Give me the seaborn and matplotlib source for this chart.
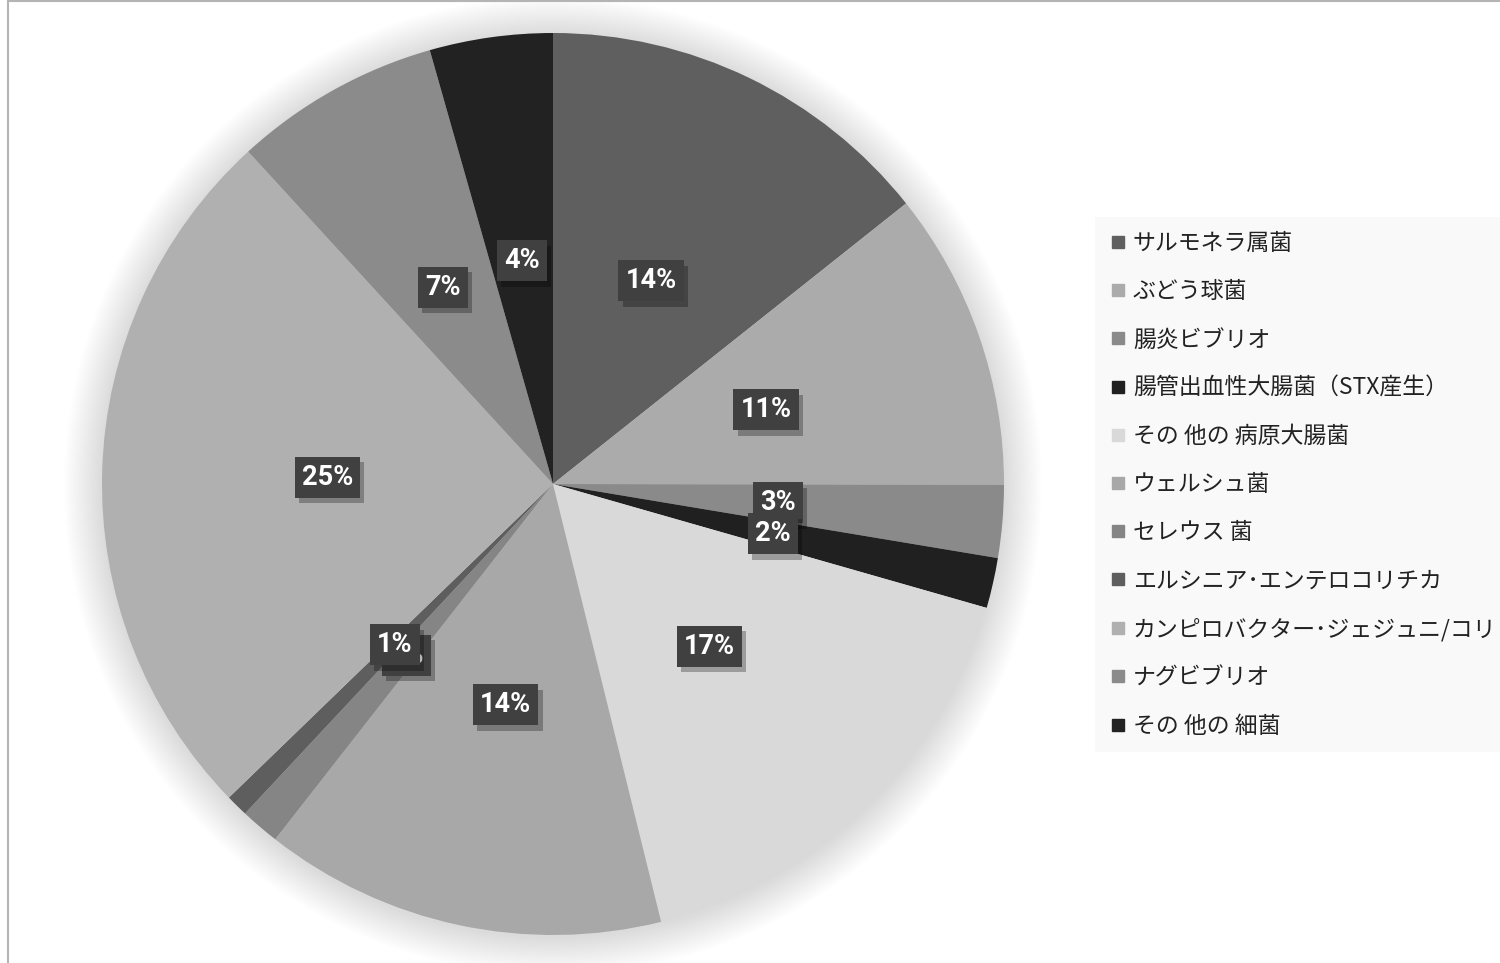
import matplotlib
matplotlib.use("Agg")
import matplotlib.pyplot as plt
import matplotlib.patheffects as pe
from matplotlib.lines import Line2D
from matplotlib.patches import Circle, Rectangle
import seaborn as sns

# Share of food-poisoning cases by bacterial agent (%)
categories = [
    "サルモネラ属菌",
    "ぶどう球菌",
    "腸炎ビブリオ",
    "腸管出血性大腸菌（STX産生）",
    "その 他の 病原大腸菌",
    "ウェルシュ菌",
    "セレウス 菌",
    "エルシニア･エンテロコリチカ",
    "カンピロバクター･ジェジュニ/コリ",
    "ナグビブリオ",
    "その 他の 細菌",
]
shares = [14.3, 10.7, 2.6, 1.8, 16.7, 14.4, 1.4, 0.8, 25.4, 7.4, 4.4]
slice_colors = ["#5f5f5f", "#ababab", "#8a8a8a", "#202020", "#d9d9d9",
                "#a8a8a8", "#858585", "#5e5e5e", "#b0b0b0", "#8b8b8b", "#222222"]

sns.set_theme(style="white")
plt.rcParams["font.family"] = ["Noto Sans CJK JP", "DejaVu Sans"]

W, H = 1500, 963
fig = plt.figure(figsize=(W / 100, H / 100), dpi=100)
fig.patch.set_facecolor("white")

# frame lines along the top and left edges
fig.add_artist(Rectangle((8 / W, -0.01), 1.1, 1.01 - 1 / H, transform=fig.transFigure,
                         fill=False, edgecolor="#b4b4b4", linewidth=1.5))

cx, cy, r = 553, 484, 451
ax = fig.add_axes([(cx - r) / W, (H - cy - r) / H, 2 * r / W, 2 * r / H])

# soft glow around the pie
n = 36
for i in range(n):
    ax.add_patch(Circle((0.0, -0.004), 1.0 + 0.085 * (i + 1) / n, facecolor="black",
                        edgecolor="none", alpha=0.0055, clip_on=False, zorder=0))

wedges, texts, autotexts = ax.pie(
    shares,
    colors=slice_colors,
    startangle=90,
    counterclock=False,
    radius=1.0,
    autopct=lambda p: f"{p:.0f}%",
    pctdistance=0.5,
    wedgeprops=dict(linewidth=0, zorder=2),
    textprops=dict(color="white", fontsize=19.5, fontweight="bold", family="Roboto"),
)
ax.set_xlim(-1, 1)
ax.set_ylim(-1, 1)
ax.set_aspect("auto")

for t in autotexts:
    t.set_bbox(dict(boxstyle="square,pad=0.26", facecolor="#404040", edgecolor="none"))
    t.get_bbox_patch().set_path_effects(
        [pe.SimplePatchShadow(offset=(3, -4), shadow_rgbFace="black", alpha=0.28), pe.Normal()])
    t.set_zorder(5)

handles = [Line2D([], [], marker="s", linestyle="", markersize=9,
                  markerfacecolor=c, markeredgecolor=c) for c in slice_colors]
leg = fig.legend(
    handles, categories,
    loc="upper left",
    bbox_to_anchor=(1102 / W, 1 - 224 / H),
    frameon=True,
    fontsize=16.5,
    labelspacing=1.1,
    handlelength=0.7,
    handletextpad=0.3,
    borderpad=0.35,
    borderaxespad=0,
)
frame = leg.get_frame()
frame.set_facecolor("#f8f8f8")
frame.set_edgecolor("none")
frame.set_boxstyle("square")
for txt in leg.get_texts():
    txt.set_color("#222222")

fig.savefig("out.png", dpi=100, facecolor="white")
